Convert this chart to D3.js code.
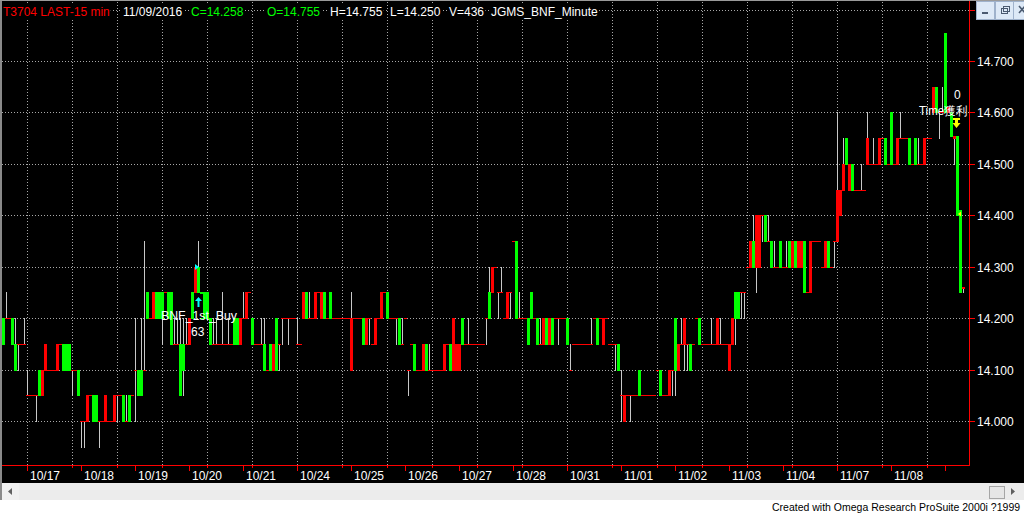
<!DOCTYPE html>
<html><head><meta charset="utf-8">
<script src="https://cdn.jsdelivr.net/npm/d3@7"></script>
<style>html,body{margin:0;padding:0;background:#000;overflow:hidden}svg{display:block}text{font-family:"Liberation Sans",Arial,sans-serif}</style>
</head><body><svg id="c" width="1024" height="515"></svg>
<script>
// Bars: [open, high, low, close] in hundredths above 14.00 (price = 14 + v/100)
const oct14=[[15,20,15,20],[20,25,20,20],[20,20,20,20],[15,20,15,20],[10,20,10,15],[15,15,10,15],[15,15,15,15],[15,20,15,15]];
const oct17=[[5,10,5,5],[5,5,5,5],[5,5,5,5],[5,5,0,5],[5,10,5,10],[10,10,5,5],[15,15,10,10],[10,10,10,10],[10,10,10,10],[10,10,10,10],[15,15,10,10],[15,15,15,15],[10,15,10,15],[10,15,10,15],[10,15,10,15],[10,10,5,10],[10,10,10,10],[5,10,5,10]];
const oct18=[[0,0,-5,0],[0,0,-5,0],[5,5,0,0],[5,5,5,5],[0,5,0,5],[0,5,0,5],[0,0,-5,0],[0,0,0,0],[5,5,0,0],[0,0,0,0],[0,0,0,0],[5,5,0,0],[5,5,0,5],[5,5,5,5],[0,5,0,5],[0,5,0,0],[0,5,0,5],[5,5,5,5]];
const oct19=[[10,20,0,10],[5,10,5,10],[5,20,5,10],[10,35,10,10],[20,25,20,25],[20,20,20,20],[25,25,20,20],[20,25,20,25],[20,25,20,25],[20,25,15,25],[25,25,25,25],[20,25,20,25],[15,25,15,25],[15,20,15,15],[15,20,15,15],[5,20,5,15],[10,20,5,15],[15,20,15,15]];
const oct20=[[20,20,15,15],[20,25,20,25],[30,30,25,25],[25,35,25,30],[20,25,20,25],[20,25,20,25],[20,25,20,25],[15,20,15,20],[15,20,15,15],[15,20,15,15],[15,15,15,15],[15,25,15,15],[15,15,15,15],[15,20,15,15],[15,15,15,15],[15,20,15,20],[15,20,15,20],[20,20,15,15]];
const oct21=[[20,25,20,20],[25,25,20,20],[25,25,25,25],[15,20,15,20],[15,15,15,15],[15,15,15,15],[15,20,15,15],[10,20,10,15],[10,10,10,10],[10,15,10,15],[15,15,10,10],[10,20,10,20],[15,15,10,15],[20,20,15,20],[20,20,20,20],[20,20,15,20],[20,20,20,20],[20,20,20,20]];
const oct24=[[15,20,15,15],[15,15,15,15],[25,25,20,20],[20,25,20,25],[20,25,20,20],[20,20,20,20],[25,25,20,20],[25,25,25,25],[25,25,20,20],[20,25,20,25],[20,20,20,20],[20,25,20,25],[20,20,20,20],[20,20,20,20],[20,20,20,20],[20,20,20,20],[20,20,20,20],[20,20,20,20]];
const oct25=[[20,25,10,10],[20,20,20,20],[20,20,20,20],[20,20,20,20],[15,20,15,20],[20,20,15,15],[20,20,15,20],[15,15,15,15],[20,20,15,15],[20,20,20,20],[25,25,20,20],[25,25,25,25],[20,25,20,25],[20,20,20,20],[20,20,20,20],[20,20,15,20],[15,20,15,20],[15,20,15,15]];
const oct26=[[20,20,20,20],[10,10,5,10],[15,15,15,15],[10,15,10,15],[10,10,10,10],[10,10,10,10],[15,15,10,10],[10,15,10,15],[10,15,10,10],[10,10,10,10],[10,10,10,10],[10,10,10,10],[10,10,10,10],[15,15,10,10],[15,15,15,15],[10,15,10,15],[20,20,10,10],[15,15,10,10]];
const oct27=[[15,15,10,10],[15,20,15,20],[15,15,15,15],[15,20,15,15],[15,15,15,15],[15,15,15,15],[15,15,15,15],[15,15,15,15],[15,15,15,15],[20,20,15,20],[20,30,20,25],[30,30,25,25],[30,30,30,30],[25,25,20,25],[25,30,25,25],[20,20,20,20],[25,25,20,20],[25,25,20,25]];
const oct28=[[35,35,35,35],[20,35,20,35],[20,25,20,20],[20,20,20,20],[20,20,20,20],[15,20,15,20],[20,25,20,25],[20,20,20,20],[15,20,15,20],[15,20,15,15],[20,20,15,15],[15,20,15,20],[20,20,15,15],[15,20,15,20],[20,20,20,20],[20,20,15,20],[20,20,20,20],[20,20,20,20]];
const oct31=[[15,20,15,20],[10,15,10,10],[15,15,15,15],[15,15,15,15],[15,15,15,15],[15,15,15,15],[15,15,15,15],[15,15,15,15],[15,20,15,15],[20,20,20,20],[15,20,15,20],[20,20,20,20],[20,20,15,15],[20,20,20,20],[15,15,15,15],[15,15,15,15],[15,15,10,15],[10,15,10,15]];
const nov01=[[5,10,0,5],[5,5,0,0],[5,5,5,5],[5,5,0,5],[5,5,5,5],[5,5,5,5],[5,10,5,10],[5,5,5,5],[5,5,5,5],[5,5,5,5],[5,5,5,5],[5,5,5,5],[10,10,10,10],[5,10,5,10],[5,5,5,5],[5,5,5,5],[10,10,5,5],[10,10,5,10]];
const nov02=[[10,20,5,20],[15,15,10,10],[15,20,15,15],[20,20,10,15],[15,15,10,15],[10,15,10,15],[15,15,15,15],[20,20,20,20],[15,20,15,20],[15,15,15,15],[15,15,15,15],[15,15,15,15],[15,20,15,15],[15,15,15,15],[20,20,15,15],[15,20,15,15],[15,15,15,15],[15,15,15,15]];
const nov03=[[15,15,10,10],[20,20,15,15],[20,25,15,25],[20,25,20,25],[25,25,20,25],[25,25,20,25],[30,30,30,30],[35,35,30,30],[30,40,30,35],[40,40,25,30],[40,40,30,30],[40,40,35,40],[35,40,35,40],[35,40,35,35],[30,35,30,35],[30,35,30,30],[30,30,30,30],[30,35,30,35]];
const nov04=[[30,30,30,30],[30,35,30,30],[30,35,30,35],[35,35,30,30],[30,35,30,35],[35,35,30,30],[35,35,30,30],[25,35,25,35],[25,25,25,25],[35,35,25,25],[35,35,35,35],[35,35,35,35],[35,35,35,35],[30,30,30,30],[35,35,30,30],[30,35,30,35],[30,30,30,30],[35,35,30,35]];
const nov07=[[45,60,35,35],[45,45,40,40],[50,55,45,45],[50,55,50,55],[50,50,45,45],[45,50,45,50],[45,45,45,45],[45,45,45,45],[45,50,45,45],[45,45,45,45],[55,60,50,50],[50,50,50,50],[50,55,50,50],[50,50,50,50],[55,55,50,50],[55,55,55,55],[50,55,50,55],[50,50,50,50]];
const nov08=[[50,60,50,60],[50,50,50,50],[55,55,50,50],[55,60,55,55],[55,55,55,55],[55,55,55,55],[50,55,50,55],[50,50,50,50],[50,55,50,55],[50,55,50,50],[50,50,50,50],[55,55,50,50],[55,55,55,55],[55,55,55,55],[65,65,60,60],[60,65,60,65],[60,60,55,60],[60,65,60,60]];
const nov09=[[60,75.5,60,75.5],[61,61,60,60],[55.5,60,55.5,60],[55.5,55.5,50,55],[40,55.5,40,55.5],[25,41,25,41],[26,26,25,25.8]];

const sessions=[oct14,oct17,oct18,oct19,oct20,oct21,oct24,oct25,oct26,oct27,oct28,oct31,nov01,nov02,nov03,nov04,nov07,nov08,nov09];
const sessionLabels=["10/14","10/17","10/18","10/19","10/20","10/21","10/24","10/25","10/26","10/27","10/28","10/31","11/01","11/02","11/03","11/04","11/07","11/08","11/09"];
const shownLabels=["10/17","10/18","10/19","10/20","10/21","10/24","10/25","10/26","10/27","10/28","10/31","11/01","11/02","11/03","11/04","11/07","11/08"];
const priceTicks=[14.0,14.1,14.2,14.3,14.4,14.5,14.6,14.7,14.8];
const headerTexts=["T3704 LAST-15 min","11/09/2016","C=14.258","O=14.755","H=14.755","L=14.250","V=436","JGMS_BNF_Minute"];
const headerColors=["#ff0000","#ffffff","#00ff00","#00ff00","#ffffff","#ffffff","#ffffff","#ffffff"];
const headerX=[3,123,191,267,330,390,449,491];

// build bar list
const bars=[]; const dayStarts=[];
sessions.forEach((s,si)=>{dayStarts.push({i:bars.length,label:sessionLabels[si]});
  s.forEach(b=>bars.push({o:14+b[0]/100,h:14+b[1]/100,l:14+b[2]/100,c:14+b[3]/100}));});

const svg=d3.select("#c");
const W=1024,H=515;
const plotL=2,plotR=969,plotB=465;
const x=d3.scaleLinear().domain([0,1]).range([2,5]);          // bar index -> left edge
const y=d3.scaleLinear().domain([14.0,14.7]).range([421,61]);  // price -> pixel
const R=v=>Math.round(v);

svg.append("rect").attr("width",W).attr("height",H).attr("fill","#000");

// grid
const g=svg.append("g").attr("stroke","#a8a8a8").attr("stroke-dasharray","1,2").attr("shape-rendering","crispEdges");
priceTicks.forEach(p=>g.append("line").attr("x1",plotL).attr("x2",plotR).attr("y1",R(y(p))+0.5).attr("y2",R(y(p))+0.5));
const gridIdx=d3.range(8,bars.length,15);
gridIdx.forEach(i=>{const gx=R(x(i)+1)+0.5; if(gx<plotR) g.append("line").attr("x1",gx).attr("x2",gx).attr("y1",2).attr("y2",plotB);});

// wicks
svg.append("g").attr("shape-rendering","crispEdges").selectAll("line").data(bars.map((b,i)=>({...b,i})).filter(b=>b.h>Math.max(b.o,b.c)||b.l<Math.min(b.o,b.c)))
 .join("line").attr("x1",d=>R(x(d.i))+1.5).attr("x2",d=>R(x(d.i))+1.5)
 .attr("y1",d=>R(y(d.h))).attr("y2",d=>R(y(d.l))+1).attr("stroke","#c8c8c8").attr("stroke-width",1);

// bodies
const bodies=bars.map((b,i)=>({...b,i})).filter(b=>b.o!==b.c);
svg.append("g").attr("shape-rendering","crispEdges").selectAll("rect").data(bodies).join("rect")
 .attr("x",d=>R(x(d.i))).attr("width",3)
 .attr("y",d=>R(y(Math.max(d.o,d.c))))
 .attr("height",d=>Math.max(1,R(y(Math.min(d.o,d.c)))-R(y(Math.max(d.o,d.c)))+1))
 .attr("fill",d=>d.c>d.o?"#00ff00":"#ff0000");
// doji
const dojis=bars.map((b,i)=>({...b,i})).filter(b=>b.o===b.c);
svg.append("g").attr("shape-rendering","crispEdges").selectAll("rect").data(dojis).join("rect")
 .attr("x",d=>R(x(d.i))).attr("width",3).attr("y",d=>R(y(d.o))).attr("height",1).attr("fill","#ff0000");

// markers
const buyIdx=65, exitIdx=317;
svg.append("rect").attr("x",R(x(buyIdx))-3).attr("y",R(y(14.25))+2).attr("width",9).attr("height",24).attr("fill","#000");
svg.append("path").attr("d",`M${R(x(buyIdx))+1.5},${R(y(14.25))+5} l-3.5,4 h2.5 v6 h2 v-6 h2.5 z`).attr("fill","#00ffff");
svg.append("path").attr("d",`M${R(x(buyIdx))-2},${R(y(14.30))-3} v6 l4,-3 z`).attr("fill","#00ffff");
svg.append("text").attr("x",161).attr("y",320).attr("fill","#fff").attr("font-size",12).attr("textLength",76).attr("lengthAdjust","spacingAndGlyphs").text("BNF_1st_Buy");
svg.append("text").attr("x",191).attr("y",336).attr("fill","#fff").attr("font-size",12).text("63");
svg.append("path").attr("d",`M${R(x(exitIdx))+0},118 h7 v2 h-2 v3 h2.5 l-4,5 l-4,-5 h2.5 v-3 h-2 z`).attr("fill","#ffff00");
svg.append("path").attr("d",`M958,214 l3,-2.5 v5 z`).attr("fill","#ffff00");
svg.append("text").attr("x",954).attr("y",99).attr("fill","#fff").attr("font-size",12).text("0");
svg.append("text").attr("x",919).attr("y",115).attr("fill","#fff").attr("font-size",12).attr("textLength",48).attr("lengthAdjust","spacingAndGlyphs").text("Time獲利");

// axes frame
svg.append("rect").attr("x",0).attr("y",0).attr("width",2).attr("height",500).attr("fill","#8a8a8a");
svg.append("rect").attr("x",0).attr("y",0).attr("width",W).attr("height",1).attr("fill","#9a9a9a");
const ax=svg.append("g").attr("stroke","#ff0000").attr("shape-rendering","crispEdges");
ax.append("line").attr("x1",969.5).attr("x2",969.5).attr("y1",1).attr("y2",plotB+0.5);
ax.append("line").attr("x1",plotL).attr("x2",969.5).attr("y1",plotB+0.5).attr("y2",plotB+0.5);
priceTicks.forEach(p=>ax.append("line").attr("x1",969).attr("x2",975).attr("y1",R(y(p))+0.5).attr("y2",R(y(p))+0.5));
dayStarts.slice(1).forEach(d=>{const tx=R(x(d.i)+1)+0.5; ax.append("line").attr("x1",tx).attr("x2",tx).attr("y1",plotB).attr("y2",plotB+6);});
gridIdx.forEach(i=>{const tx=R(x(i)+1)+0.5; if(tx<plotR) ax.append("line").attr("x1",tx).attr("x2",tx).attr("y1",plotB).attr("y2",plotB+3);});

// price labels
svg.append("g").selectAll("text").data(priceTicks.filter(p=>p<14.75)).join("text")
 .attr("x",977).attr("y",p=>R(y(p))+4.5).attr("fill","#fff").attr("font-size",12).text(p=>p.toFixed(3));
// date labels
svg.append("g").selectAll("text").data(dayStarts.filter(d=>shownLabels.includes(d.label))).join("text")
 .attr("x",d=>R(x(d.i))+4).attr("y",480).attr("fill","#fff").attr("font-size",12).text(d=>d.label);

// header
const hg=svg.append("g");
headerTexts.forEach((t,i)=>{
 const tx=hg.append("text").attr("x",headerX[i]).attr("y",16).attr("fill",headerColors[i]).attr("font-size",12).text(t);
 const bb=tx.node().getBBox();
 hg.insert("rect","text").attr("x",bb.x-1).attr("y",5).attr("width",bb.width+2).attr("height",13).attr("fill","#000");
});

// window buttons
const btn=svg.append("g");
[976,995,1013].forEach((bx,i)=>{btn.append("rect").attr("x",bx+0.5).attr("y",1.5).attr("width",18).attr("height",18).attr("fill","#dde9f7").attr("stroke","#9fb2cc");});
btn.append("rect").attr("x",982).attr("y",12).attr("width",6).attr("height",2).attr("fill","#4a5a70");
btn.append("rect").attr("x",1001.5).attr("y",8.5).attr("width",6).attr("height",5).attr("fill","none").attr("stroke","#4a5a70");
btn.append("rect").attr("x",1003.5).attr("y",6.5).attr("width",6).attr("height",5).attr("fill","none").attr("stroke","#4a5a70");
btn.append("path").attr("d","M1019,6 l6,7 M1025,6 l-6,7").attr("stroke","#4a5a70").attr("stroke-width",1.6);

// scrollbar + footer
svg.append("rect").attr("x",2).attr("y",483).attr("width",W-2).attr("height",17).attr("fill","#ececec");
svg.append("rect").attr("x",2).attr("y",483).attr("width",17).attr("height",17).attr("fill","#f0f0f0");
svg.append("path").attr("d","M8,491.5 l4,-3.5 v7 z").attr("fill","#606060");
svg.append("rect").attr("x",989.5).attr("y",486.5).attr("width",15).attr("height",12).attr("fill","#e6e6e6").attr("stroke","#a6a6a6");
svg.append("path").attr("d","M1015,491.5 l-4,-3.5 v7 z").attr("fill","#606060");
svg.append("rect").attr("x",0).attr("y",500).attr("width",W).attr("height",15).attr("fill","#fff");
svg.append("text").attr("x",772).attr("y",511).attr("fill","#000").attr("font-size",10.5).text("Created with Omega Research ProSuite 2000i ?1999");
</script></body></html>
